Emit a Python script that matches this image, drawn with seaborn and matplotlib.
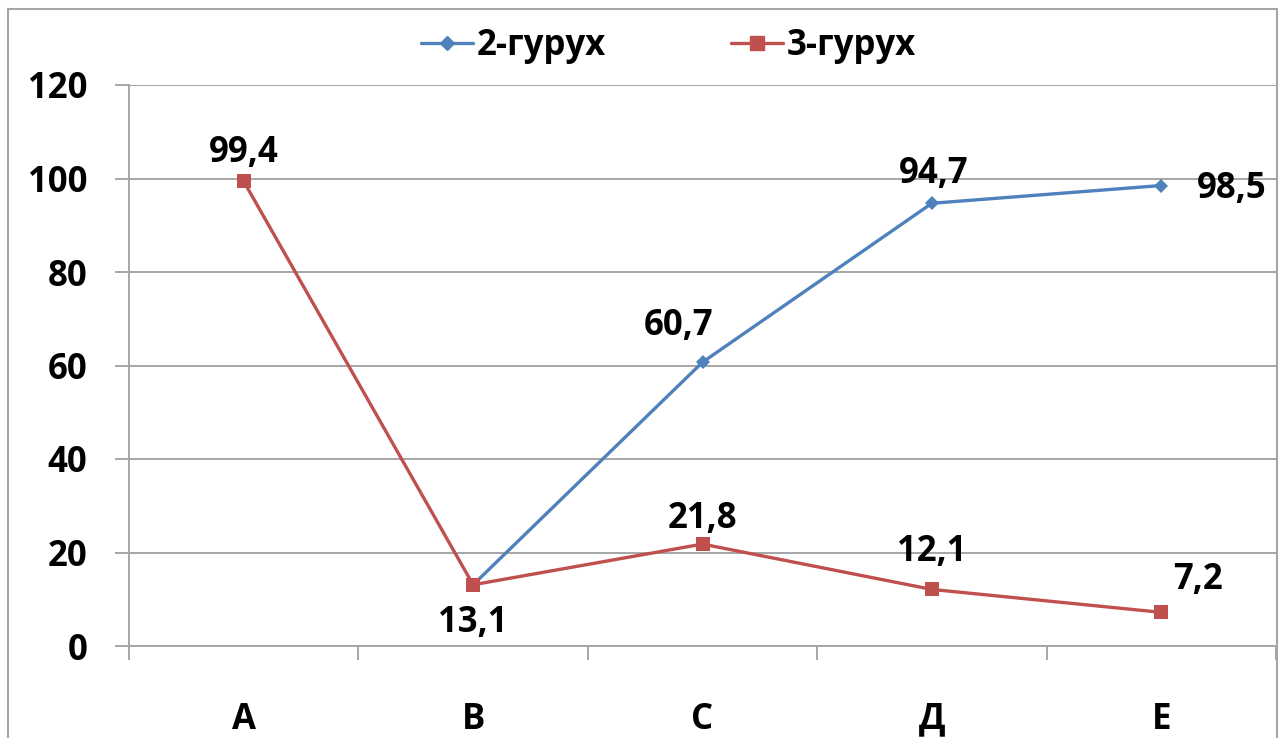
import matplotlib
matplotlib.use("Agg")
import matplotlib.pyplot as plt
import numpy as np
import pandas as pd
import seaborn as sns
from matplotlib.lines import Line2D

# data
categories = ["А", "В", "С", "Д", "Е"]
group2_name = "2-гурух"
group3_name = "3-гурух"
group2_values = [np.nan, 13.1, 60.7, 94.7, 98.5]
group3_values = [99.4, 13.1, 21.8, 12.1, 7.2]

# build long-form table
rows = []
for name, vals in [(group2_name, group2_values), (group3_name, group3_values)]:
    for i, v in enumerate(vals):
        if not np.isnan(v):
            rows.append({"pos": i, "cat": categories[i], "value": v, "group": name})
df = pd.DataFrame(rows)

sns.set_style("white")
plt.rcParams['font.family'] = ['Open Sans', 'DejaVu Sans']
plt.rcParams['font.weight'] = 'bold'
plt.rcParams['text.color'] = 'black'
plt.rcParams['xtick.color'] = 'black'
plt.rcParams['ytick.color'] = 'black'

blue = "#4F81BD"
red = "#C0504D"
grey = "#A6A6A6"
fs = 25

fig = plt.figure(figsize=(12.8, 7.38), dpi=100)
ax = fig.add_axes([129/1280, 1-646/738, (1276-129)/1280, (646-85)/738])

sns.lineplot(data=df, x="pos", y="value", hue="group", style="group",
             palette={group2_name: blue, group3_name: red},
             markers={group2_name: "D", group3_name: "s"},
             dashes=False, linewidth=2.4, markersize=9, markeredgewidth=0,
             legend=False, ax=ax)
# red squares a bit larger than the blue diamonds
for ln in ax.lines:
    if matplotlib.colors.to_hex(ln.get_color()).lower() == red.lower():
        ln.set_markersize(10)
    else:
        ln.set_markersize(7)

ax.set_xlim(-0.5, len(categories) - 0.5)
ax.set_ylim(0, 120)
ax.set_yticks(range(0, 121, 20))
ax.yaxis.grid(True, color=grey, linewidth=1.4)
ax.set_axisbelow(True)
ax.set_xlabel("")
ax.set_ylabel("")

# category boundaries as major ticks, names on minor ticks
ax.set_xticks(np.arange(-0.5, len(categories), 1.0))
ax.set_xticklabels([])
ax.set_xticks(range(len(categories)), minor=True)
ax.set_xticklabels(categories, minor=True, fontsize=fs, fontweight='bold')
ax.tick_params(axis='x', which='major', length=10, width=1.4, color=grey, direction='out', bottom=True)
ax.tick_params(axis='x', which='minor', length=0, pad=40)
ax.tick_params(axis='y', length=10, width=1.4, color=grey, direction='out', left=True, pad=20, labelsize=fs)
for t in ax.get_yticklabels():
    t.set_fontweight('bold')

for side in ["top", "right"]:
    ax.spines[side].set_visible(False)
for side in ["left", "bottom"]:
    ax.spines[side].set_color(grey)
    ax.spines[side].set_linewidth(1.4)

# data labels (offsets in pixels)
label_offsets3 = [(0, 28), (0, -38), (0, 25), (0, 37), (37, 32)]
label_offsets2 = [None, None, (-24, 36), (2, 29), (70, -3)]
for vals, offs in [(group3_values, label_offsets3), (group2_values, label_offsets2)]:
    for i, (v, off) in enumerate(zip(vals, offs)):
        if off is None or np.isnan(v):
            continue
        ax.annotate(f"{v:.1f}".replace(".", ","), (i, v), xytext=off,
                    textcoords="offset pixels", ha="center", va="center",
                    fontsize=fs, fontweight="bold", color="black", annotation_clip=False)

handles = [Line2D([], [], color=blue, marker="D", markersize=7, linewidth=2.4),
           Line2D([], [], color=red, marker="s", markersize=10, linewidth=2.4)]
fig.legend(handles, [group2_name, group3_name], loc="center", bbox_to_anchor=(0.522, 1-46/738),
           ncol=2, frameon=False, handlelength=1.5, handletextpad=0.1,
           columnspacing=3.6, prop={"weight": "bold", "size": fs})

# outer chart border (bottom edge is cut off in the reference)
border = dict(color=grey, linewidth=1.5, transform=fig.transFigure)
fig.add_artist(Line2D([8/1280, 8/1280], [0, 1-9/738], **border))
fig.add_artist(Line2D([8/1280, 1277/1280], [1-9/738, 1-9/738], **border))
fig.add_artist(Line2D([1277/1280, 1277/1280], [0, 1-9/738], **border))

fig.savefig("out.png", dpi=100)
